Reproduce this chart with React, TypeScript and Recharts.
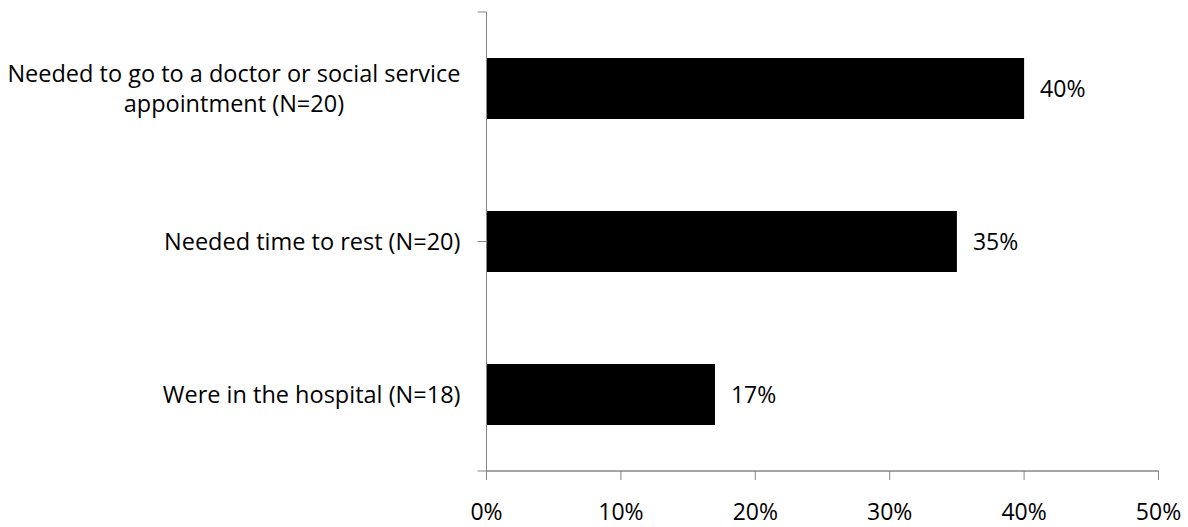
import React from "react";
import { BarChart, Bar, XAxis, YAxis, LabelList, ReferenceLine } from "recharts";

const categories = [
  "Needed to go to a doctor or social service\nappointment (N=20)",
  "Needed time to rest (N=20)",
  "Were in the hospital (N=18)",
];
const values = [40, 35, 17];
const xTicks = [0, 10, 20, 30, 40, 50];
const frameTicks = [0, 1, 2, 3];

const data = categories.map((name, i) => ({ name, value: values[i] }));

const FONT = "'Open Sans', sans-serif";
const FONT_SIZE = 23.5;
const LINE_H = 30;
const AXIS = "#868686";

let ctx: CanvasRenderingContext2D | null = null;
function measure(s: string) {
  if (!ctx) ctx = document.createElement("canvas").getContext("2d");
  if (!ctx) return s.length * 11;
  ctx.font = `${FONT_SIZE}px 'Open Sans'`;
  return ctx.measureText(s).width;
}

// category label: block right-aligned at x, lines centered inside it
function CatTick(props: any) {
  const { x, y, payload } = props;
  const lines = String(payload.value).split("\n");
  const w = Math.max(...lines.map(measure));
  const cx = x - w / 2;
  return (
    <text
      x={cx}
      y={y}
      textAnchor="middle"
      fill="#000"
      fontSize={FONT_SIZE}
      fontFamily={FONT}
    >
      {lines.map((l, i) => (
        <tspan key={i} x={cx} y={y + (i - (lines.length - 1) / 2) * LINE_H} dy="0.35em">
          {l}
        </tspan>
      ))}
    </text>
  );
}

export default function App() {
  return (
    <div style={{ width: 1188, height: 527 }}>
      <style>{"body{margin:0}"}</style>
      <BarChart
        width={1188}
        height={527}
        data={data}
        layout="vertical"
        margin={{ top: 12, right: 29.5, bottom: 0, left: 0 }}
        barCategoryGap="30%"
      >
        <XAxis
          type="number"
          domain={[0, 50]}
          ticks={xTicks}
          tickFormatter={(v) => `${v}%`}
          height={56}
          tickSize={9}
          tickMargin={24}
          axisLine={{ stroke: AXIS, strokeWidth: 1 }}
          tickLine={{ stroke: AXIS }}
          tick={{ fill: "#000", fontSize: 23, fontFamily: FONT }}
        />
        <YAxis
          yAxisId="b_cat"
          type="category"
          dataKey="name"
          width={485.5}
          axisLine={false}
          tickLine={false}
          tickSize={0}
          tickMargin={25}
          tick={<CatTick />}
          interval={0}
        />
        {/* band boundaries: ticks between the categories, plus the bottom axis line */}
        <YAxis
          yAxisId="a_frame"
          type="number"
          domain={[0, 3]}
          ticks={frameTicks}
          reversed
          width={1}
          tickFormatter={() => ""}
          tickSize={9}
          axisLine={{ stroke: AXIS }}
          tickLine={{ stroke: AXIS }}
        />
        <Bar yAxisId="b_cat" dataKey="value" fill="#000" isAnimationActive={false}>
          <LabelList
            dataKey="value"
            position="right"
            offset={16}
            formatter={(v: any) => `${v}%`}
            fill="#000"
            fontSize={23}
            fontFamily={FONT}
          />
        </Bar>
        <ReferenceLine
          yAxisId="a_frame"
          y={0}
          stroke={AXIS}
          strokeWidth={1}
          ifOverflow="visible"
        />
      </BarChart>
    </div>
  );
}
